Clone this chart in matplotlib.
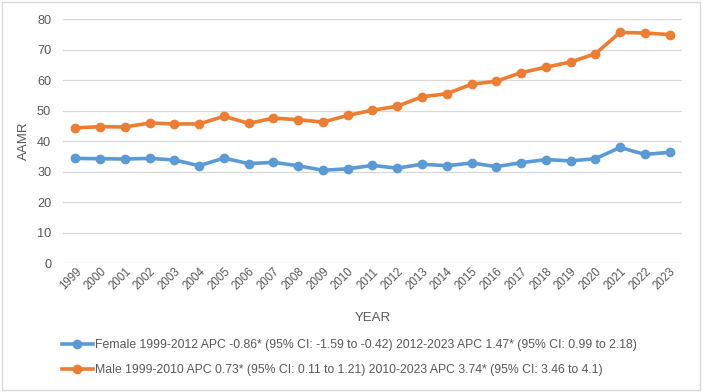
import matplotlib
matplotlib.use("Agg")
import matplotlib.pyplot as plt
from matplotlib.patches import Rectangle

years = [str(y) for y in range(1999, 2024)]
female = [34.3, 34.2, 34.1, 34.3, 33.8, 31.9, 34.4, 32.6, 33.0, 31.9, 30.4,
          30.9, 32.0, 31.1, 32.4, 31.9, 32.8, 31.6, 32.9, 33.9, 33.5, 34.2, 37.9, 35.6, 36.3]
male = [44.3, 44.7, 44.6, 45.9, 45.6, 45.6, 48.1, 45.8, 47.5, 47.0, 46.2,
        48.4, 50.1, 51.4, 54.5, 55.5, 58.6, 59.6, 62.4, 64.2, 65.9, 68.6, 75.6, 75.4, 74.9]
yticks = [0, 10, 20, 30, 40, 50, 60, 70, 80]
female_label = "Female 1999-2012 APC -0.86* (95% CI: -1.59 to -0.42) 2012-2023 APC 1.47* (95% CI: 0.99 to 2.18)"
male_label = "Male 1999-2010 APC 0.73* (95% CI: 0.11 to 1.21) 2010-2023 APC 3.74* (95% CI: 3.46 to 4.1)"

plt.rcParams['font.family'] = ['Liberation Sans', 'DejaVu Sans']
txt = '#595959'

fig = plt.figure(figsize=(7.02, 3.92), dpi=100)
ax = fig.add_axes([0.0897, 0.329, 0.8818, 0.6225])

x = list(range(len(years)))
ax.plot(x, female, color='#5B9BD5', lw=2.6, marker='o', ms=6, label=female_label, zorder=3)
ax.plot(x, male, color='#ED7D31', lw=2.6, marker='o', ms=6, label=male_label, zorder=3)

ax.set_xlim(-0.5, len(years) - 0.5)
ax.set_ylim(0, 80)
ax.set_yticks(yticks)
ax.set_xticks(x)
ax.set_xticklabels(years, rotation=45, ha='right', rotation_mode='anchor', fontsize=8.3, color=txt)
ax.tick_params(axis='y', labelsize=9.2, colors=txt, length=0, pad=8.5)
ax.tick_params(axis='x', length=0, pad=2, colors=txt)
ax.grid(axis='y', color='#d9d9d9', lw=0.9)
ax.set_axisbelow(True)
for s in ax.spines.values():
    s.set_visible(False)
ax.set_ylabel('AAMR', fontsize=9.5, color=txt, labelpad=5)
fig.text(0.531, 0.188, 'YEAR', ha='center', va='center', fontsize=9.5, color=txt)

leg = fig.legend(loc='center left', bbox_to_anchor=(0.088, 0.087), frameon=False,
                 fontsize=8.8, labelcolor=txt, handlelength=2.55, handletextpad=0.2,
                 labelspacing=1.05, borderaxespad=0, borderpad=0)

fig.add_artist(Rectangle((0.003, 0.004), 0.994, 0.992, transform=fig.transFigure,
                         fill=False, edgecolor='#d9d9d9', lw=1.0))
fig.savefig('out.png', dpi=100)
